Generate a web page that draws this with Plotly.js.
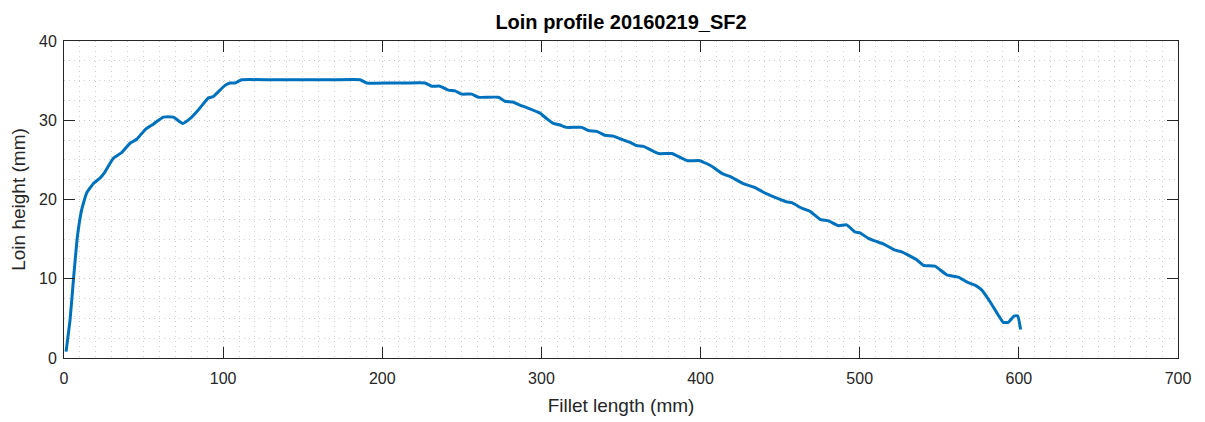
<!DOCTYPE html>
<html>
<head>
<meta charset="utf-8">
<script src="https://cdn.plot.ly/plotly-3.0.1.min.js"></script>
<style>html,body{margin:0;padding:0;background:#fff}#chart{width:1205px;height:422px}</style>
</head>
<body>
<div id="chart"></div>
<script>
const filletLength = [1.3, 3.8, 5.9, 8.4, 11.1, 14.2, 18.4, 22.6, 25.8, 31.0, 36.2, 41.5, 45.7, 50.9, 56.1, 62.4, 68.7, 74.6, 79.2, 84.4, 90.7, 93.8, 101.2, 104.3, 107.5, 111.7,
  130, 150, 170, 186, 190.2, 205, 215, 226.8, 231, 236.3, 241.5, 245.7, 249.9, 256.2, 260.4, 273, 277.1, 282, 286.5, 290.7, 299.1, 303.3, 307.5, 311.7, 315.9, 325.3, 329.5, 334.7, 340, 345.2, 350.4,
  355.7, 359.9, 364.1, 373.5, 381.9, 391.7, 399.6, 407, 413.3, 419.6, 426.9, 434.2, 441.6, 454.1, 457.3, 463.6, 468.8, 475.1, 480.3, 486.6, 491.8, 497, 500.2, 505.4, 510.7, 514.8,
  522.2, 526.4, 535.8, 540, 547.3, 554.7, 562, 567.2, 572.4, 576.6, 581.9, 587.1, 590.2, 593.4, 597, 599.3, 601.1];
const loinHeight = [0.8, 4.8, 9.8, 15.3, 18.7, 20.8, 22.0, 22.7, 23.5, 25.2, 25.9, 27.1, 27.6, 28.8, 29.5, 30.4, 30.4, 29.6, 30.2, 31.3, 32.8, 33.0, 34.4, 34.7, 34.7, 35.1,
  35.1, 35.1, 35.1, 35.1, 34.7, 34.7, 34.7, 34.7, 34.3, 34.3, 33.8, 33.7, 33.3, 33.3, 32.9, 32.9, 32.4, 32.3, 31.9, 31.6, 30.9, 30.2, 29.6, 29.4, 29.1, 29.1, 28.7, 28.6, 28.1, 28.0, 27.6,
  27.2, 26.8, 26.7, 25.8, 25.8, 24.9, 24.9, 24.2, 23.3, 22.8, 22.0, 21.5, 20.7, 19.7, 19.6, 18.9, 18.5, 17.5, 17.3, 16.7, 16.8, 15.9, 15.8, 15.1, 14.7, 14.4,
  13.6, 13.4, 12.4, 11.7, 11.6, 10.5, 10.2, 9.6, 9.2, 8.6, 7.1, 5.4, 4.5, 4.5, 5.3, 5.3, 3.6];
const xTicks = [0, 100, 200, 300, 400, 500, 600, 700];
const yTicks = [0, 10, 20, 30, 40];

const FONT = 'Liberation Sans, Arial, Helvetica, sans-serif';
const DOTS = '1px,4px';
const axisCommon = {
  showline: true, linecolor: '#262626', linewidth: 1, mirror: 'ticks',
  ticks: 'inside', ticklen: 11, tickcolor: '#262626', tickwidth: 1,
  showgrid: true, gridcolor: '#c4c4c4', griddash: DOTS, gridwidth: 1,
  zeroline: false, automargin: false,
  tickfont: {family: FONT, size: 16, color: '#262626'}
};

const trace = {
  x: filletLength, y: loinHeight, type: 'scatter', mode: 'lines',
  line: {color: '#0072BD', width: 3, shape: 'spline', smoothing: 0.4}
};

const layout = {
  width: 1205, height: 422,
  margin: {l: 64, r: 27, t: 41, b: 64},
  paper_bgcolor: '#fff', plot_bgcolor: '#fff',
  showlegend: false,
  title: {text: '<b>Loin profile 20160219_SF2</b>', xref: 'paper', x: 0.5, xanchor: 'center', yref: 'container', y: 0.948, yanchor: 'middle',
    font: {family: FONT, size: 20, color: '#000'}},
  xaxis: Object.assign({}, axisCommon, {
    range: [0, 700], tickvals: xTicks, ticktext: xTicks.map(String),
    ticklabelstandoff: 6,
    minor: {dtick: 10, showgrid: true, gridcolor: '#cfcfcf', griddash: DOTS, gridwidth: 1, ticks: ''},
    title: {text: 'Fillet length (mm)', standoff: 12, font: {family: FONT, size: 19, color: '#262626'}}
  }),
  yaxis: Object.assign({}, axisCommon, {
    range: [0, 40], tickvals: yTicks, ticktext: yTicks.map(String),
    ticklabelstandoff: 3,
    minor: {dtick: 2.5, showgrid: true, gridcolor: '#cfcfcf', griddash: DOTS, gridwidth: 1, ticks: ''},
    title: {text: 'Loin height (mm)', standoff: 8, font: {family: FONT, size: 19, color: '#262626'}}
  })
};

Plotly.newPlot('chart', [trace], layout, {displayModeBar: false, staticPlot: true});
</script>
</body>
</html>
